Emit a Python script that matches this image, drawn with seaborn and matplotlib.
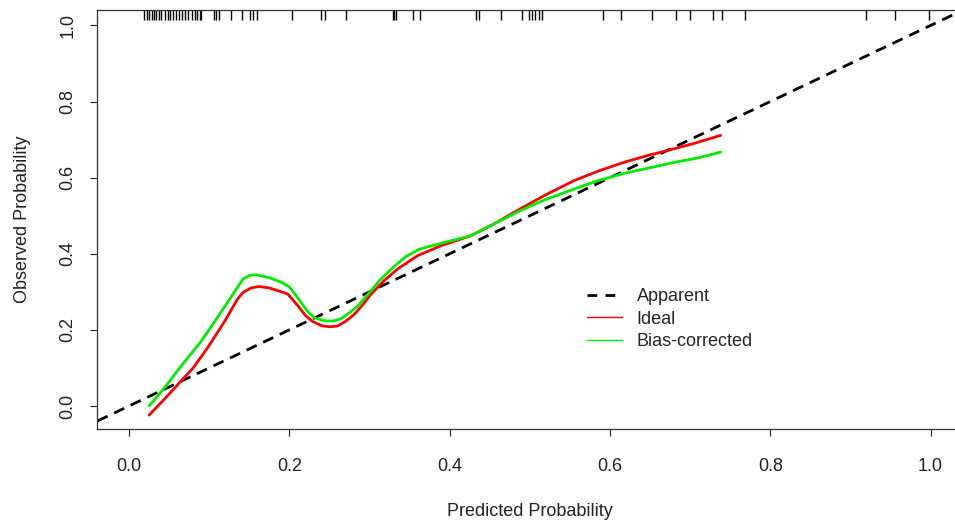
import matplotlib
matplotlib.use("Agg")
import matplotlib.pyplot as plt
import seaborn as sns
import pandas as pd
from matplotlib.lines import Line2D

# ---- data ----
ideal_x = [0.025, 0.045, 0.065, 0.080, 0.098, 0.120, 0.135, 0.142, 0.152, 0.162, 0.175, 0.190,
           0.198, 0.210, 0.220, 0.229, 0.240, 0.250, 0.260, 0.270, 0.281, 0.290, 0.302, 0.318,
           0.335, 0.360, 0.389, 0.426, 0.455, 0.488, 0.520, 0.555, 0.585, 0.617, 0.645, 0.671,
           0.705, 0.738]
ideal_y = [-0.024, 0.020, 0.066, 0.100, 0.153, 0.225, 0.280, 0.298, 0.310, 0.314, 0.310, 0.300,
           0.294, 0.265, 0.238, 0.222, 0.211, 0.208, 0.210, 0.222, 0.241, 0.262, 0.294, 0.329,
           0.360, 0.395, 0.421, 0.447, 0.478, 0.518, 0.555, 0.592, 0.617, 0.640, 0.657, 0.671,
           0.690, 0.711]
bias_x = [0.025, 0.045, 0.065, 0.090, 0.110, 0.130, 0.142, 0.150, 0.158, 0.175, 0.190, 0.200,
          0.212, 0.222, 0.231, 0.243, 0.255, 0.265, 0.275, 0.285, 0.302, 0.312, 0.330, 0.345,
          0.362, 0.390, 0.426, 0.455, 0.488, 0.520, 0.555, 0.585, 0.617, 0.650, 0.680, 0.710,
          0.738]
bias_y = [0.000, 0.050, 0.105, 0.170, 0.232, 0.295, 0.333, 0.343, 0.345, 0.337, 0.325, 0.313,
          0.280, 0.250, 0.232, 0.224, 0.223, 0.230, 0.245, 0.262, 0.303, 0.329, 0.365, 0.392,
          0.412, 0.428, 0.447, 0.478, 0.513, 0.543, 0.570, 0.592, 0.611, 0.626, 0.640, 0.652,
          0.667]
apparent_x = [-0.06, 1.06]
apparent_y = [-0.06, 1.06]
rug_x = [0.019, 0.022, 0.025, 0.028, 0.031, 0.034, 0.037, 0.040,
         0.045, 0.048, 0.051, 0.055, 0.059, 0.062, 0.066, 0.070, 0.074, 0.078, 0.082, 0.085, 0.088, 0.090,
         0.106, 0.109, 0.112, 0.127, 0.141, 0.151, 0.155, 0.160, 0.203, 0.239, 0.245, 0.271,
         0.329, 0.331, 0.333, 0.354, 0.363, 0.433, 0.436, 0.464, 0.490,
         0.499, 0.503, 0.507, 0.511, 0.515, 0.591, 0.614, 0.653, 0.682, 0.700, 0.729, 0.740, 0.768,
         0.920, 0.955, 0.998]
x_ticks = [0.0, 0.2, 0.4, 0.6, 0.8, 1.0]
y_ticks = [0.0, 0.2, 0.4, 0.6, 0.8, 1.0]
legend_labels = ["Apparent", "Ideal", "Bias-corrected"]

sns.set_style("white")
plt.rcParams['font.family'] = ['Liberation Sans', 'DejaVu Sans']
FS = 13

fig = plt.figure(figsize=(9.55, 5.22), dpi=100)
ax = fig.add_axes([0.1016, 0.178, 0.9064, 0.803])

df_ideal = pd.DataFrame({"x": ideal_x, "y": ideal_y})
df_bias = pd.DataFrame({"x": bias_x, "y": bias_y})
df_app = pd.DataFrame({"x": apparent_x, "y": apparent_y})

sns.lineplot(data=df_app, x="x", y="y", ax=ax, color="black", linewidth=2,
             sort=False, estimator=None)
ax.lines[-1].set_dashes([4.0, 2.6])
sns.lineplot(data=df_ideal, x="x", y="y", ax=ax, color="#ff0000", linewidth=2,
             sort=False, estimator=None)
sns.lineplot(data=df_bias, x="x", y="y", ax=ax, color="#00ee00", linewidth=2,
             sort=False, estimator=None)

ax.vlines(rug_x, 0.975, 1.0, transform=ax.get_xaxis_transform(), color="black", linewidth=1.0)

ax.set_xlim(-0.04, 1.04)
ax.set_ylim(-0.0608, 1.0408)
ax.set_xticks(x_ticks)
ax.set_yticks(y_ticks)
ax.set_xticklabels([f"{v:.1f}" for v in x_ticks])
ax.set_yticklabels([f"{v:.1f}" for v in y_ticks], rotation=90, va="center")
ax.tick_params(axis="x", direction="out", length=5, width=0.8, pad=16, labelsize=FS,
               colors="#222222", bottom=True)
ax.tick_params(axis="y", direction="out", length=5, width=0.8, pad=10, labelsize=FS,
               colors="#222222", left=True)
for s in ax.spines.values():
    s.set_color("#333333")
    s.set_linewidth(0.9)
ax.set_xlabel("Predicted Probability", fontsize=FS, color="#222222", labelpad=20)
ax.set_ylabel("Observed Probability", fontsize=FS, color="#222222", labelpad=20)

handles = [Line2D([], [], color="black", linewidth=2, dashes=[3.5, 3.0]),
           Line2D([], [], color="#ff0000", linewidth=1),
           Line2D([], [], color="#00ee00", linewidth=1)]
ax.legend(handles, legend_labels, frameon=False, fontsize=FS,
          loc="upper left", bbox_to_anchor=(0.566, 0.336), handlelength=1.95,
          handletextpad=0.8, labelspacing=0.3, borderpad=0.0, borderaxespad=0.0)

fig.savefig("out.png", dpi=100)
